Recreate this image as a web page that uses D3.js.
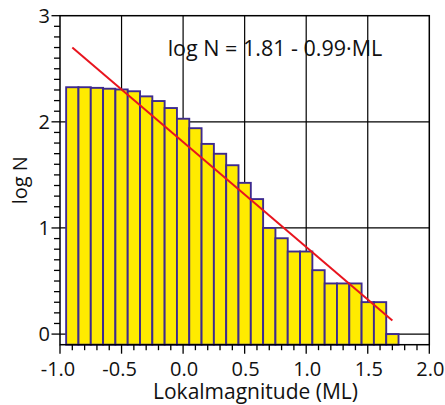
<!DOCTYPE html>
<html>
<head>
<meta charset="utf-8">
<script src="https://cdn.jsdelivr.net/npm/d3@7"></script>
<style>
html,body{margin:0;padding:0;background:#fff;}
svg{display:block;font-family:"Open Sans",sans-serif;}
</style>
</head>
<body>
<svg id="chart" width="445" height="405"></svg>
<script>
// Data (magnitude bin centres and log N values)
const magnitudes = [-0.9,-0.8,-0.7,-0.6,-0.5,-0.4,-0.3,-0.2,-0.1,0.0,0.1,0.2,0.3,0.4,0.5,0.6,0.7,0.8,0.9,1.0,1.1,1.2,1.3,1.4,1.5,1.6,1.7];
const logN = [2.326,2.326,2.320,2.312,2.305,2.288,2.240,2.196,2.130,2.029,1.940,1.792,1.699,1.591,1.425,1.272,1.000,0.903,0.778,0.778,0.602,0.477,0.477,0.477,0.301,0.301,0.0];
const fitA = 1.81, fitB = -0.99;
const fitRange = [-0.9, 1.7];
const xTicks = [-1.0,-0.5,0.0,0.5,1.0,1.5,2.0];
const yTicks = [0,1,2,3];
const equationLabel = "log N = 1.81 - 0.99\u00B7ML";
const xTitle = "Lokalmagnitude (ML)";
const yTitle = "log N";

const svg = d3.select("#chart");
const L = 60, R = 429.3, T = 15.7, B = 344.7;
const x = d3.scaleLinear().domain([-1, 2]).range([L, R]);
const y = d3.scaleLinear().domain([-0.1, 3]).range([B, T]);
const binW = 0.1;

// grid
const gx = [-0.5,0,0.5,1,1.5];
const gy = [0,1,2];
svg.append("g").selectAll("line").data(gx).join("line")
  .attr("x1", d=>x(d)).attr("x2", d=>x(d)).attr("y1", T).attr("y2", B)
  .attr("stroke", "#000").attr("stroke-width", 1.2);
svg.append("g").selectAll("line").data(gy).join("line")
  .attr("y1", d=>y(d)).attr("y2", d=>y(d)).attr("x1", L).attr("x2", R)
  .attr("stroke", "#000").attr("stroke-width", 1.2);

// bars
svg.append("g").selectAll("rect").data(magnitudes.map((m,i)=>({m, v: logN[i]}))).join("rect")
  .attr("x", d=>x(d.m - binW/2))
  .attr("width", d=>x(d.m + binW/2) - x(d.m - binW/2))
  .attr("y", d=>y(d.v))
  .attr("height", d=>y(-0.1) - y(d.v))
  .attr("fill", "#ffeb00")
  .attr("stroke", "#3d2a8f")
  .attr("stroke-width", 1.9);

// fit line
svg.append("line")
  .attr("x1", x(fitRange[0])).attr("y1", y(fitA + fitB*fitRange[0]))
  .attr("x2", x(fitRange[1])).attr("y2", y(fitA + fitB*fitRange[1]))
  .attr("stroke", "#e8141e").attr("stroke-width", 2);

// frame
svg.append("rect").attr("x", L).attr("y", T).attr("width", R-L).attr("height", B-T)
  .attr("fill", "none").attr("stroke", "#000").attr("stroke-width", 1.5);

// x axis ticks
const xMinor = d3.range(-10, 21).map(i => i/10);
svg.append("g").selectAll("line").data(xMinor).join("line")
  .attr("x1", d=>x(d)).attr("x2", d=>x(d))
  .attr("y1", B).attr("y2", (d,i)=> (i%5===0) ? B+9 : B+5.5)
  .attr("stroke", "#000").attr("stroke-width", 1.3);
svg.append("g").selectAll("text").data(xTicks).join("text")
  .attr("x", d=>x(d) + (d < 0 ? -2 : 1)).attr("y", 376)
  .attr("text-anchor", "middle").attr("font-size", 20).attr("fill", "#111")
  .text(d=>d3.format(".1f")(d).replace("\u2212","-"));

// y axis ticks
const yMinor = d3.range(0, 31).map(i => i/10);
svg.append("g").selectAll("line").data(yMinor).join("line")
  .attr("y1", d=>y(d)).attr("y2", d=>y(d))
  .attr("x1", L).attr("x2", (d,i)=> (i%10===0) ? L-8.5 : L-6)
  .attr("stroke", "#000").attr("stroke-width", 1.3);
svg.append("g").selectAll("text").data(yTicks).join("text")
  .attr("x", 50).attr("y", d=>y(d)).attr("dy", "0.36em")
  .attr("text-anchor", "end").attr("font-size", 20).attr("fill", "#111")
  .text(d=>d);

// titles
svg.append("text").attr("x", 255.5).attr("y", 398.5)
  .attr("text-anchor", "middle").attr("font-size", 21).attr("fill", "#111")
  .text(xTitle);
svg.append("text").attr("transform", `translate(27,${(T+B)/2}) rotate(-90)`)
  .attr("text-anchor", "middle").attr("font-size", 20).attr("fill", "#111")
  .text(yTitle);

// equation
svg.append("text").attr("x", 275).attr("y", 56)
  .attr("text-anchor", "middle").attr("font-size", 21.5).attr("fill", "#111")
  .text(equationLabel);
</script>
</body>
</html>
